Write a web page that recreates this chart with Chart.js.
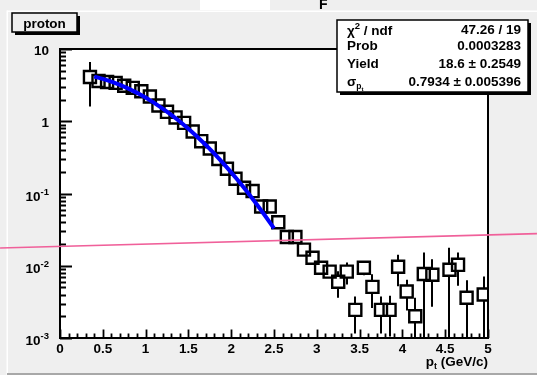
<!DOCTYPE html>
<html>
<head>
<meta charset="utf-8">
<script src="https://cdn.jsdelivr.net/npm/chart.js@4.4.1/dist/chart.umd.min.js"></script>
<style>
  html, body { margin: 0; padding: 0; background: #efefef; overflow: hidden; }
  canvas { display: block; }
</style>
</head>
<body>
<canvas id="c" width="537" height="375"></canvas>
<script>
// Proton transverse-momentum spectrum (bin centres, GeV/c)
const ptBins = [0.35, 0.45, 0.55, 0.65, 0.75, 0.85, 0.95, 1.05, 1.15, 1.25,
                1.35, 1.45, 1.55, 1.65, 1.75, 1.85, 1.95, 2.05, 2.15, 2.25,
                2.35, 2.45, 2.55, 2.65, 2.75, 2.85, 2.95, 3.05, 3.15, 3.25,
                3.35, 3.45, 3.55, 3.65, 3.75, 3.85, 3.95, 4.05, 4.15, 4.25,
                4.35, 4.55, 4.65, 4.75, 4.95];
const yieldValues = [4.1, 3.6, 3.5, 3.4, 3.1, 2.9, 2.6, 2.2, 1.65, 1.35,
                     1.13, 0.95, 0.72, 0.53, 0.42, 0.30, 0.22, 0.16, 0.12, 0.108,
                     0.066, 0.066, 0.040, 0.025, 0.025, 0.0167, 0.0129, 0.0094, 0.0083, 0.0060,
                     0.0083, 0.00245, 0.0094, 0.0051, 0.00245, 0.00245, 0.0097, 0.0044, 0.0020, 0.0077,
                     0.0075, 0.0088, 0.0103, 0.0036, 0.0040];
const yieldErrors = [2.5, 0.12, 0.1, 0.1, 0.09, 0.08, 0.07, 0.06, 0.05, 0.04,
                     0.035, 0.03, 0.025, 0.02, 0.016, 0.012, 0.01, 0.008, 0.006, 0.006,
                     0.004, 0.004, 0.003, 0.002, 0.002, 0.0015, 0.0013, 0.0012, 0.0012, 0.0024,
                     0.0028, 0.0013, 0.002, 0.0025, 0.0013, 0.0014, 0.0045, 0.002, 0.0016, 0.0075,
                     0.0048, 0.009, 0.005, 0.0027, 0.0031];

// Fitted curve (Yield = 18.6, sigma = 0.7934), sampled over the fit range
const fitPt = [0.4, 0.5, 0.6, 0.7, 0.8, 0.9, 1.0, 1.1, 1.2, 1.3, 1.4,
               1.5, 1.6, 1.7, 1.8, 1.9, 2.0, 2.1, 2.2, 2.3, 2.4, 2.5];
const fitValues = [4.141, 3.856, 3.533, 3.187, 2.829, 2.471, 2.125, 1.799, 1.498, 1.228, 0.9914,
                   0.7874, 0.6155, 0.4736, 0.3587, 0.2673, 0.1961, 0.1416, 0.1006, 0.07039, 0.04846, 0.03284];

// Straight reference line running across the whole pad
const refLinePt = [-0.70, 5.572];
const refLineValues = [0.01761, 0.02781];

// Axis ticks and labels
const xMajorTicks = [0, 0.5, 1, 1.5, 2, 2.5, 3, 3.5, 4, 4.5, 5];
const xTickLabels = ['0', '0.5', '1', '1.5', '2', '2.5', '3', '3.5', '4', '4.5', '5'];
const yMajorTicks = [10, 1, 0.1, 0.01, 0.001];
const yTickBase = ['10', '1', '10', '10', '10'];
const yTickExp = ['', '', '-1', '-2', '-3'];

// Fit statistics
const statChi2 = '47.26 / 19';
const statProb = '0.0003283';
const statYield = '18.6 \u00b1 0.2549';
const statSigma = '0.7934 \u00b1 0.005396';

const histTitle = 'proton';

const FONT = '"Liberation Sans", Arial, Helvetica, sans-serif';
const W = 537, H = 375;

function bold(px) { return 'bold ' + px + 'px ' + FONT; }

const rootStyle = {
  id: 'rootStyle',
  beforeDraw(chart) {
    const { ctx, chartArea: a } = chart;
    ctx.save();
    ctx.fillStyle = '#efefef';
    ctx.fillRect(0, 0, W, H);
    ctx.fillStyle = '#ffffff';
    ctx.fillRect(200, 0, 70, 10);
    // window bevel
    ctx.fillStyle = '#ffffff';
    ctx.fillRect(7, 10.5, W - 7, 1.5);
    ctx.fillRect(6.5, 10.5, 1.5, H - 10);
    ctx.fillStyle = '#a8a8a8';
    ctx.fillRect(7, H - 2, W - 7, 2);
    // pad content area
    ctx.fillStyle = '#ffffff';
    ctx.fillRect(a.left, a.top, a.right - a.left, a.bottom - a.top);
    ctx.restore();
  },
  beforeDatasetsDraw(chart) {
    const { ctx, chartArea: a, scales } = chart;
    const xs = scales.x, ys = scales.y;
    ctx.save();
    ctx.strokeStyle = '#000';
    ctx.fillStyle = '#000';
    // frame
    ctx.lineWidth = 2;
    ctx.strokeRect(a.left, a.top, a.right - a.left, a.bottom - a.top);

    // x ticks (inside, pointing up)
    ctx.lineWidth = 1.8;
    ctx.beginPath();
    for (let i = 0; i <= 50; i++) {
      const v = i / 10;
      const px = Math.round(xs.getPixelForValue(v)) + 0.5;
      const len = (i % 5 === 0) ? 8.5 : 4.5;
      ctx.moveTo(px, a.bottom);
      ctx.lineTo(px, a.bottom - len);
    }
    ctx.stroke();

    // y ticks (inside, pointing right), log decades with 2..9 subdivisions
    ctx.beginPath();
    for (let d = -3; d <= 0; d++) {
      for (let m = 1; m <= 9; m++) {
        const v = m * Math.pow(10, d);
        const py = Math.round(ys.getPixelForValue(v)) + 0.5;
        const len = (m === 1) ? 12 : 6;
        ctx.moveTo(a.left, py);
        ctx.lineTo(a.left + len, py);
      }
    }
    const pyTop = Math.round(ys.getPixelForValue(10)) + 0.5;
    ctx.moveTo(a.left, pyTop);
    ctx.lineTo(a.left + 12, pyTop);
    ctx.stroke();

    // x tick labels
    ctx.font = bold(13.5);
    ctx.textAlign = 'center';
    ctx.textBaseline = 'alphabetic';
    xMajorTicks.forEach((v, i) => {
      ctx.fillText(xTickLabels[i], xs.getPixelForValue(v), a.bottom + 15);
    });

    // y tick labels, with exponents as superscripts
    yMajorTicks.forEach((v, i) => {
      const py = ys.getPixelForValue(v);
      const right = a.left - 11;
      if (yTickExp[i]) {
        ctx.font = bold(9.5);
        const ew = ctx.measureText(yTickExp[i]).width;
        ctx.textAlign = 'right';
        ctx.fillText(yTickExp[i], right, py + 1);
        ctx.font = bold(13.5);
        ctx.fillText(yTickBase[i], right - ew, py + 7);
      } else {
        ctx.font = bold(13.5);
        ctx.textAlign = 'right';
        ctx.fillText(yTickBase[i], right, py + 6);
      }
    });

    // x axis title: p_t (GeV/c), right-aligned at the axis end
    ctx.textAlign = 'left';
    const t1 = 'p', t2 = 't', t3 = ' (GeV/c)';
    ctx.font = bold(13.5); const w1 = ctx.measureText(t1).width, w3 = ctx.measureText(t3).width;
    ctx.font = bold(9); const w2 = ctx.measureText(t2).width;
    let tx = a.right - (w1 + w2 + w3);
    const tb = a.bottom + 28;
    ctx.font = bold(13.5); ctx.fillText(t1, tx, tb); tx += w1;
    ctx.font = bold(9); ctx.fillText(t2, tx, tb + 3); tx += w2;
    ctx.font = bold(13.5); ctx.fillText(t3, tx, tb);

    // vertical error bars, leaving the marker interior open
    ctx.lineWidth = 2;
    ctx.beginPath();
    const half = 6.5;
    ptBins.forEach((x, i) => {
      const v = yieldValues[i], e = yieldErrors[i];
      const px = Math.round(xs.getPixelForValue(x));
      const pc = ys.getPixelForValue(v);
      const pHi = Math.max(ys.getPixelForValue(v + e), a.top);
      const pLo = (v - e) > ys.min ? ys.getPixelForValue(v - e) : a.bottom;
      if (pc - half > pHi) { ctx.moveTo(px, pHi); ctx.lineTo(px, pc - half); }
      if (pLo > pc + half) { ctx.moveTo(px, pc + half); ctx.lineTo(px, pLo); }
    });
    ctx.stroke();
    ctx.restore();
  },
  afterDraw(chart) {
    const { ctx } = chart;
    ctx.save();
    ctx.fillStyle = '#000';

    // partial glyph from the neighbouring pad
    ctx.font = bold(14);
    ctx.textAlign = 'left';
    ctx.fillText('F', 319, 9);

    // title box
    ctx.fillStyle = '#000';
    ctx.fillRect(15, 16, 65, 19);
    ctx.fillStyle = '#efefef';
    ctx.fillRect(12, 13, 65, 19);
    ctx.strokeStyle = '#000';
    ctx.lineWidth = 1.5;
    ctx.strokeRect(12, 13, 65, 19);
    ctx.fillStyle = '#000';
    ctx.font = bold(13.5);
    ctx.textAlign = 'center';
    ctx.fillText(histTitle, 44.5, 27.5);

    // statistics box
    const bx = 337, by = 20, bw = 191, bh = 72;
    ctx.fillStyle = '#000';
    ctx.fillRect(bx + 3, by + 3, bw, bh);
    ctx.fillStyle = '#ffffff';
    ctx.fillRect(bx, by, bw, bh);
    ctx.strokeStyle = '#000';
    ctx.lineWidth = 1.5;
    ctx.strokeRect(bx, by, bw, bh);

    const lx = 347, rx = 521;
    const rows = [33.5, 50, 68, 86];
    ctx.fillStyle = '#000';
    // chi^2 / ndf
    ctx.textAlign = 'left';
    ctx.font = bold(13.5);
    ctx.fillText('\u03c7', lx, rows[0] + 1);
    let cx = lx + ctx.measureText('\u03c7').width;
    ctx.font = bold(9.5);
    ctx.fillText('2', cx, rows[0] - 5);
    cx += ctx.measureText('2').width;
    ctx.font = bold(13.5);
    ctx.fillText(' / ndf', cx, rows[0] + 1);
    ctx.fillText('Prob', lx, rows[1]);
    ctx.fillText('Yield', lx, rows[2]);
    // sigma_pt
    ctx.fillText('\u03c3', lx, rows[3]);
    cx = lx + ctx.measureText('\u03c3').width;
    ctx.font = bold(8.5);
    ctx.fillText('p', cx, rows[3] + 3);
    cx += ctx.measureText('p').width;
    ctx.font = bold(6);
    ctx.fillText('t', cx, rows[3] + 5);

    ctx.font = bold(13.5);
    ctx.textAlign = 'right';
    ctx.fillText(statChi2, rx, rows[0]);
    ctx.fillText(statProb, rx, rows[1]);
    ctx.fillText(statYield, rx, rows[2]);
    ctx.fillText(statSigma, rx, rows[3]);
    ctx.restore();
  }
};

new Chart(document.getElementById('c'), {
  type: 'scatter',
  data: {
    datasets: [
      {
        label: 'reference',
        data: refLinePt.map((x, i) => ({ x, y: refLineValues[i] })),
        showLine: true,
        borderColor: '#f0609a',
        borderWidth: 1.6,
        pointRadius: 0,
        clip: false,
        order: 0
      },
      {
        label: 'fit',
        data: fitPt.map((x, i) => ({ x, y: fitValues[i] })),
        showLine: true,
        borderColor: '#0000ff',
        borderWidth: 4,
        pointRadius: 0,
        tension: 0,
        order: 1
      },
      {
        label: histTitle,
        data: ptBins.map((x, i) => ({ x, y: yieldValues[i] })),
        showLine: false,
        pointStyle: 'rect',
        pointRadius: 8.5,
        pointBorderWidth: 2.4,
        pointBorderColor: '#000',
        pointBackgroundColor: 'rgba(0,0,0,0)',
        order: 2
      }
    ]
  },
  options: {
    responsive: false,
    animation: false,
    devicePixelRatio: 1,
    layout: { padding: { left: 60, right: 49, top: 49, bottom: 37 } },
    scales: {
      x: { type: 'linear', min: 0, max: 5, display: false },
      y: { type: 'logarithmic', min: 0.001, max: 10, display: false }
    },
    plugins: {
      legend: { display: false },
      tooltip: { enabled: false }
    }
  },
  plugins: [rootStyle]
});
</script>
</body>
</html>
